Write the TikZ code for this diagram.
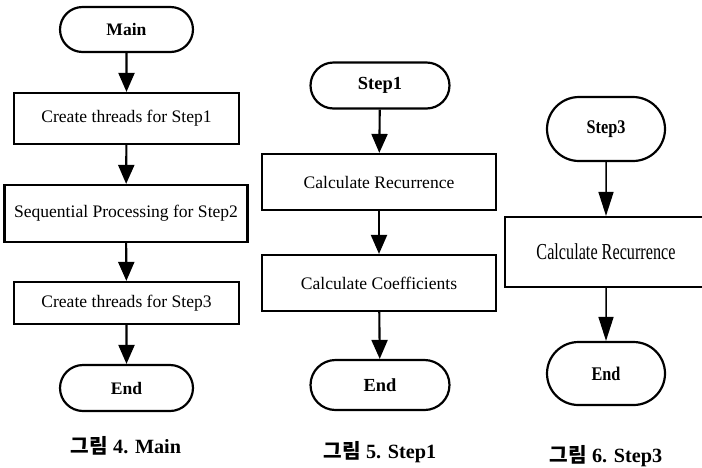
\documentclass[tikz,border=0pt]{standalone}
\usepackage{fontspec}
\setmainfont{Liberation Serif}
\newfontfamily\krfont{Noto Sans CJK KR}
\newfontfamily\narrowfont{Liberation Serif}[FakeStretch=0.71]
\newfontfamily\narrowbold{Liberation Serif}[FakeStretch=0.84]
\usetikzlibrary{shapes.misc,arrows.meta}
\tikzset{
  term/.style={rounded rectangle,draw,line width=1.25pt,inner sep=0pt,
    font=\fontsize{10}{12}\selectfont\bfseries},
  proc/.style={rectangle,draw,line width=1.25pt,inner sep=0pt,
    font=\fontsize{10}{12}\selectfont},
  flow/.style={line width=1.2pt,-{Triangle[width=0.32cm,length=0.38cm]}},
  caption/.style={font=\fontsize{11.5}{14}\selectfont\bfseries}
}

\begin{document}
\begin{tikzpicture}[x=0.02cm,y=-0.02cm]
\useasboundingbox (0,0) rectangle (702,467);
\begin{scope}
\node[term,minimum width=2.66cm,minimum height=0.9cm] (m0) at (126.5,29.5) {Main};
\node[proc,minimum width=4.5cm,minimum height=1.02cm] (m1) at (126.5,118.5) {Create threads for Step1};
\node[proc,minimum width=4.86cm,minimum height=1.14cm] (m2) at (126,213.5) {Sequential Processing for Step2};
\node[proc,minimum width=4.5cm,minimum height=0.84cm] (m3) at (126.5,303) {Create threads for Step3};
\node[term,minimum width=2.66cm,minimum height=0.92cm] (m4) at (126.5,388) {End};
\draw[flow] (m0) -- (m1);
\draw[flow] (m1) -- (m2);
\draw[flow] (m2) -- (m3);
\draw[flow] (m3) -- (m4);
\node[caption] (c4) at (126,446) {{\krfont 그림} 4. Main};
\end{scope}
\begin{scope}[every node/.append style={font=\fontsize{10.5}{12}\selectfont}]
\node[term,minimum width=2.78cm,minimum height=0.92cm,font=\fontsize{10.5}{12}\selectfont\bfseries] (s0) at (380,85.5) {Step1};
\node[proc,minimum width=4.68cm,minimum height=1.12cm] (s1) at (379,182) {Calculate Recurrence};
\node[proc,minimum width=4.68cm,minimum height=1.12cm] (s2) at (379,283) {Calculate Coefficients};
\node[term,minimum width=2.78cm,minimum height=1.0cm,font=\fontsize{10.5}{12}\selectfont\bfseries] (s3) at (380,385) {End};
\draw[flow] (s0) -- (s1);
\draw[flow] (s1) -- (s2);
\draw[flow] (s2) -- (s3);
\node[caption] (c5) at (380,452) {{\krfont 그림} 5. Step1};
\end{scope}
\begin{scope}[every node/.append style={line width=0.9pt},
  flow/.append style={line width=0.85pt,-{Triangle[width=0.3cm,length=0.48cm]}}]
\node[term,minimum width=2.36cm,minimum height=1.28cm,font=\fontsize{11}{13}\narrowbold\bfseries] (t0) at (606,129) {Step3};
\node[proc,minimum width=4.04cm,minimum height=1.4cm,font=\fontsize{13}{15}\narrowfont] (t1) at (606,252) {Calculate Recurrence};
\node[term,minimum width=2.36cm,minimum height=1.26cm,font=\fontsize{11}{13}\narrowbold\bfseries] (t2) at (606,373.5) {End};
\draw[flow] (t0) -- (t1);
\draw[flow] (t1) -- (t2);
\node[caption] (c6) at (606,456) {{\krfont 그림} 6. Step3};
\end{scope}
\end{tikzpicture}
\end{document}
